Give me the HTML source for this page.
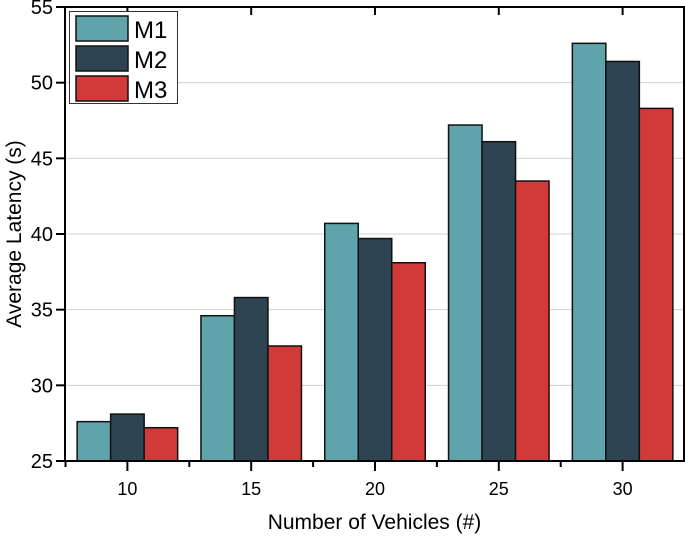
<!DOCTYPE html>
<html><head><meta charset="utf-8"><style>
body{margin:0;background:#fff}
svg{font-family:"Liberation Sans",sans-serif}
</style></head><body>
<svg id="c" width="685" height="535" viewBox="0 0 685 535"></svg>
<script>
const categories=["10","15","20","25","30"];
const m1=[27.6,34.6,40.7,47.2,52.6];
const m2=[28.1,35.8,39.7,46.1,51.4];
const m3=[27.2,32.6,38.1,43.5,48.3];
const yTicks=[25,30,35,40,45,50,55];
const seriesNames=["M1","M2","M3"];
const colors=["#5fa3ab","#2f4452","#d23a3a"];
const svg=document.getElementById('c');
const NS="http://www.w3.org/2000/svg";
const L=65,R=684,T=7,B=461;
const y=v=>B-(v-25)/(55-25)*(B-T);
const band=(R-L)/categories.length;
const xc=i=>L+band*(i+0.5)+0.5;
function mk(t,a,p){const e=document.createElementNS(NS,t);for(const k in a)e.setAttribute(k,a[k]);(p||svg).appendChild(e);return e;}
yTicks.forEach(v=>{if(v>25&&v<55){const g=mk('line',{x1:L,x2:R,y1:y(v),y2:y(v),stroke:'#d0d0d0','stroke-width':1});

}});
const data=[m1,m2,m3];const bw=33.5;
categories.forEach((c,i)=>{data.forEach((s,j)=>{const x=xc(i)+(j-1.5)*bw;
const r=mk('rect',{x:x,y:y(s[i]),width:bw,height:B-y(s[i]),fill:colors[j],stroke:'#111','stroke-width':1.5});

});});
const ax=mk('rect',{x:L,y:T,width:R-L,height:B-T,fill:'none',stroke:'#000','stroke-width':2});


yTicks.forEach(v=>{mk('line',{x1:L-9,x2:L,y1:y(v),y2:y(v),stroke:'#000','stroke-width':2});
mk('line',{x1:R,x2:R+4,y1:y(v),y2:y(v),stroke:'#000','stroke-width':2});
const t=mk('text',{x:L-12,y:y(v)+7,'text-anchor':'end','font-size':20});t.textContent=v;

});
categories.forEach((c,i)=>{mk('line',{x1:xc(i),x2:xc(i),y1:B,y2:B+10,stroke:'#000','stroke-width':2});
mk('line',{x1:xc(i),x2:xc(i),y1:T,y2:T+8,stroke:'#000','stroke-width':2});
mk('line',{x1:xc(i)-band/2,x2:xc(i)-band/2,y1:B,y2:B+6,stroke:'#000','stroke-width':2});
const t=mk('text',{x:xc(i),y:B+34,'text-anchor':'middle','font-size':18});t.textContent=c;

});
const xt=mk('text',{x:(L+R)/2,y:529,'text-anchor':'middle','font-size':21});xt.textContent='Number of Vehicles (#)';


const yt=mk('text',{x:0,y:0,'text-anchor':'middle','font-size':21,transform:'translate(21,'+((T+B)/2)+') rotate(-90)'});yt.textContent='Average Latency (s)';


const lg=mk('g',{});


mk('rect',{x:69.5,y:11.5,width:108,height:92,fill:'#fff',stroke:'#333','stroke-width':1},lg);
seriesNames.forEach((n,j)=>{const g=mk('g',{},lg);


mk('rect',{x:76,y:16+j*30,width:52,height:25,fill:colors[j],stroke:'#111','stroke-width':1.5},g);
const t=mk('text',{x:134,y:38+j*30,'font-size':24},g);t.textContent=n;});
</script>
</body></html>
